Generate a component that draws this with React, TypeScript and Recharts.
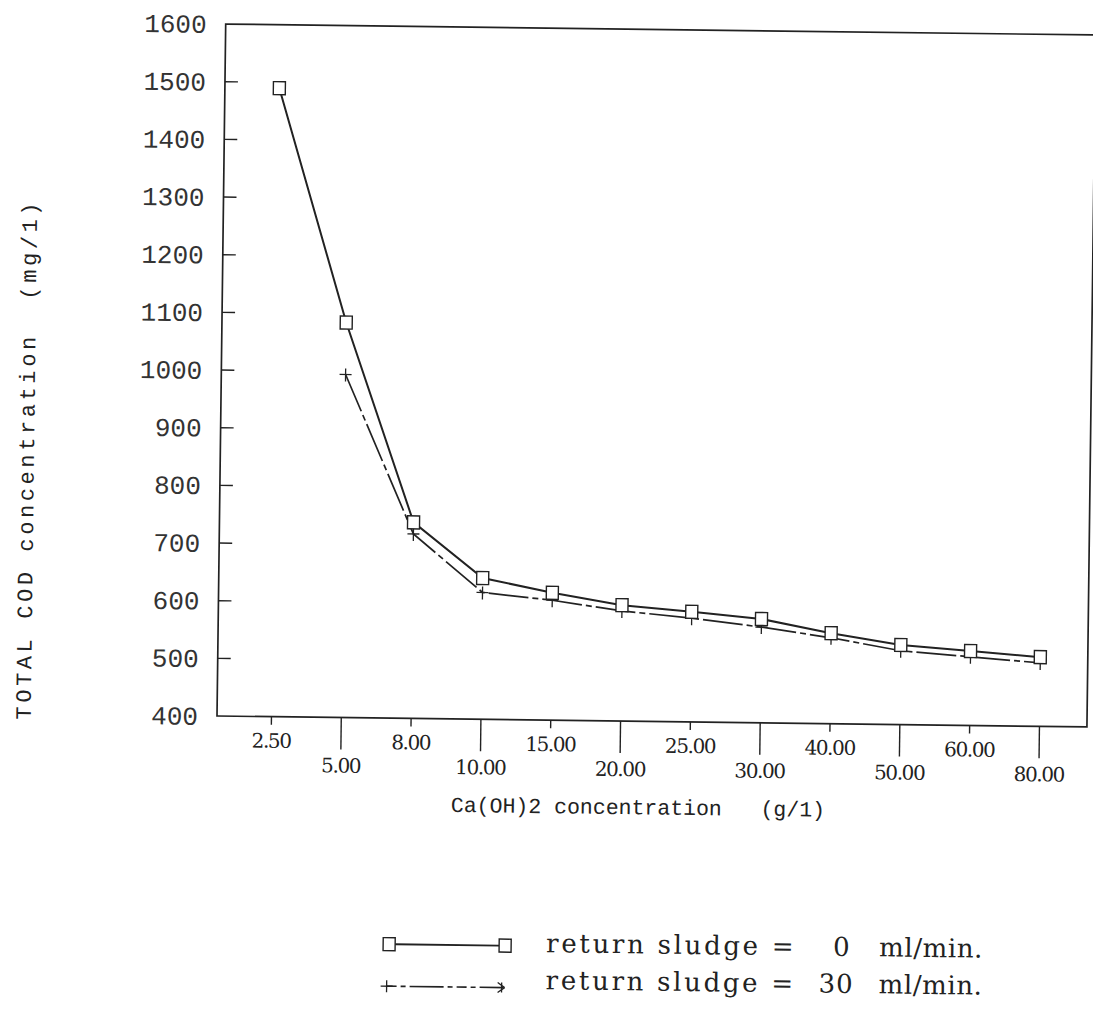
import React from 'react';
import { LineChart, Line, XAxis, YAxis, ReferenceArea } from 'recharts';

const categories = ['2.50', '5.00', '8.00', '10.00', '15.00', '20.00', '25.00', '30.00', '40.00', '50.00', '60.00', '80.00'];
const sludge0 = [1490, 1085, 740, 645, 621, 601, 591, 580, 557, 538, 529, 520];
const sludge30: (number | null)[] = [null, 995, 720, 620, 608, 591, 580, 566, 549, 528, 519, 510];
const yTicks = [400, 500, 600, 700, 800, 900, 1000, 1100, 1200, 1300, 1400, 1500, 1600];
const xTicks = [0, 1, 2, 3, 4, 5, 6, 7, 8, 9, 10, 11];
const legendItems = [
  { label: 'return sludge =', value: '0', unit: 'ml/min.' },
  { label: 'return sludge =', value: '30', unit: 'ml/min.' },
];

const data = categories.map((c, i) => ({ i, cat: c, s0: sludge0[i], s30: sludge30[i] }));

const INK = '#222';
const MONO = '"Liberation Mono", "DejaVu Sans Mono", monospace';
const SERIF = '"DejaVu Serif", "Liberation Serif", serif';
const DASH = '40 4 6 4';

const XTick = (props: any) => {
  const { x, y, payload } = props;
  const idx = payload.value as number;
  const long = idx % 2 === 1;
  return (
    <g>
      <line x1={x} y1={y} x2={x} y2={y + (long ? 32 : 8)} stroke={INK} strokeWidth={1.4} />
      <text x={x} y={y + (long ? 55 : 31)} textAnchor="middle" fontFamily={SERIF} fontSize={20} letterSpacing={-1.4} fill={INK}>
        {categories[idx]}
      </text>
    </g>
  );
};

const YTick = (props: any) => {
  const { x, y, payload } = props;
  const v = payload.value as number;
  return (
    <g>
      {v !== 400 && v !== 1600 && <line x1={x} y1={y} x2={x + 13} y2={y} stroke={INK} strokeWidth={1.4} />}
      <text x={x - 19} y={y} dy="0.35em" textAnchor="end" fontFamily={MONO} fontSize={26} fill="#333">
        {v}
      </text>
    </g>
  );
};

const XLabel = () => (
  <text x={452} y={809} fontFamily={MONO} fontSize={21.5} fill={INK} style={{ whiteSpace: 'pre' }}>
    {'Ca(OH)2 concentration   (g/1)'}
  </text>
);

const YLabel = () => (
  <text
    x={23}
    y={722}
    transform="rotate(-90 23 722)"
    dy="0.35em"
    fontFamily={MONO}
    fontSize={22}
    letterSpacing={3.6}
    fill={INK}
    style={{ whiteSpace: 'pre' }}
  >
    {'TOTAL COD concentration  (mg/1)'}
  </text>
);

const SquareDot = (props: any) => {
  const { cx, cy } = props;
  if (cx == null || cy == null) return <g />;
  return <rect x={cx - 6} y={cy - 6.5} width={12} height={13} fill="#fff" stroke={INK} strokeWidth={1.4} />;
};

const PlusDot = (props: any) => {
  const { cx, cy } = props;
  if (cx == null || cy == null) return <g />;
  return (
    <g>
      <line x1={cx - 6} y1={cy} x2={cx + 6} y2={cy} stroke={INK} strokeWidth={1.3} />
      <line x1={cx} y1={cy - 6} x2={cx} y2={cy + 7} stroke={INK} strokeWidth={1.3} />
    </g>
  );
};

const Legend = () => (
  <svg width={1093} height={1018} style={{ position: 'absolute', left: 0, top: 0, pointerEvents: 'none' }}>
    <line x1={398} y1={942} x2={502} y2={942} stroke={INK} strokeWidth={1.8} />
    <rect x={386} y={935.5} width={12} height={13} fill="#fff" stroke={INK} strokeWidth={1.4} />
    <rect x={502} y={935.5} width={12} height={13} fill="#fff" stroke={INK} strokeWidth={1.4} />
    <line x1={390} y1={984} x2={507} y2={984} stroke={INK} strokeWidth={1.6} strokeDasharray="10 4 5 4 34 4 5 4" />
    <line x1={384} y1={984} x2={396} y2={984} stroke={INK} strokeWidth={1.3} />
    <line x1={390} y1={978} x2={390} y2={990} stroke={INK} strokeWidth={1.3} />
    <line x1={501} y1={979} x2={508} y2={984} stroke={INK} strokeWidth={1.3} />
    <line x1={501} y1={989} x2={508} y2={984} stroke={INK} strokeWidth={1.3} />
    <line x1={505} y1={979} x2={505} y2={989} stroke={INK} strokeWidth={1.3} />
    {legendItems.map((it, k) => {
      const y = k === 0 ? 948 : 985;
      return (
        <g key={k} fontFamily={SERIF} fontSize={26} fill={INK}>
          <text x={549} y={y} letterSpacing={2.7}>{it.label}</text>
          <text x={k === 0 ? 836 : 822} y={y} letterSpacing={1}>{it.value}</text>
          <text x={882} y={y} letterSpacing={0.6}>{it.unit}</text>
        </g>
      );
    })}
  </svg>
);

export default function App() {
  return (
    <div style={{ position: 'absolute', left: 0, top: 0, width: 1093, height: 1018, overflow: 'hidden', background: '#fff' }}>
      <div
        style={{
          position: 'absolute',
          left: 0,
          top: 0,
          width: 1093,
          height: 1018,
          transform: 'rotate(0.72deg)',
          transformOrigin: '217px 716px',
        }}
      >
        <LineChart width={1093} height={1018} data={data} margin={{ top: 24, right: 6, bottom: 242, left: 0 }}>
          <ReferenceArea x1={-0.78} x2={11.68} y1={400} y2={1600} fill="none" stroke={INK} strokeWidth={1.7} ifOverflow="visible" />
          <XAxis
            type="number"
            dataKey="i"
            domain={[-0.78, 11.68]}
            ticks={xTicks}
            interval={0}
            tick={<XTick />}
            tickLine={false}
            axisLine={false}
            tickSize={0}
            tickMargin={0}
            height={60}
            allowDataOverflow
            label={<XLabel />}
          />
          <YAxis
            type="number"
            domain={[400, 1600]}
            ticks={yTicks}
            interval={0}
            tick={<YTick />}
            tickLine={false}
            axisLine={false}
            tickSize={0}
            tickMargin={0}
            width={217}
            allowDataOverflow
            label={<YLabel />}
          />
          <Line
            dataKey="s30"
            stroke={INK}
            strokeWidth={1.7}
            strokeDasharray={DASH}
            dot={<PlusDot />}
            activeDot={false}
            isAnimationActive={false}
            connectNulls={false}
            type="linear"
          />
          <Line
            dataKey="s0"
            stroke={INK}
            strokeWidth={2}
            dot={<SquareDot />}
            activeDot={false}
            isAnimationActive={false}
            type="linear"
          />
        </LineChart>
        <Legend />
      </div>
    </div>
  );
}
